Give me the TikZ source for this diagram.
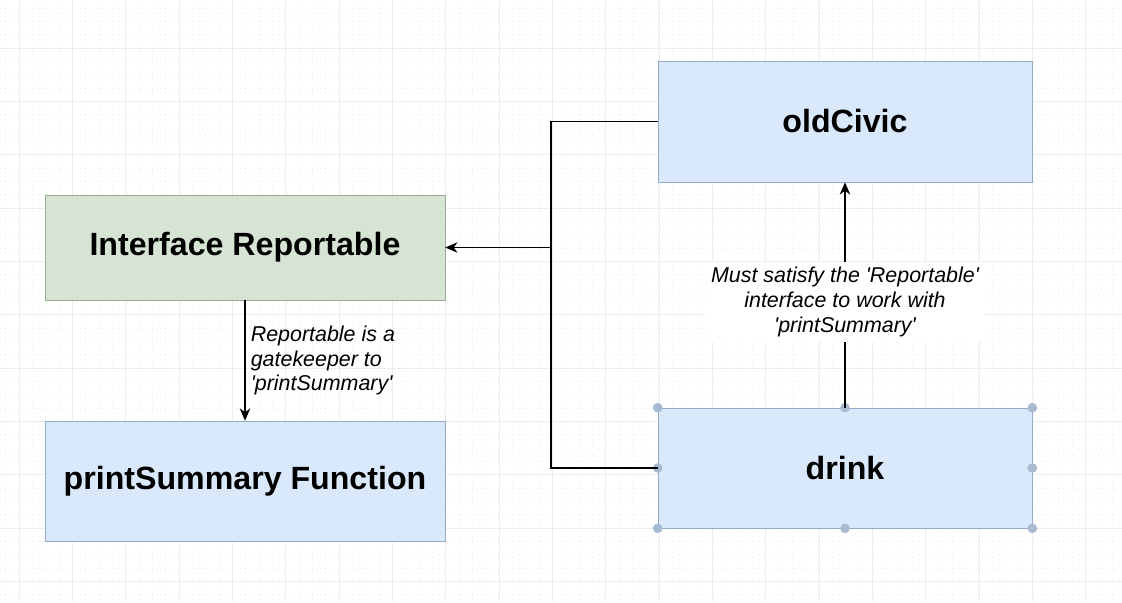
\documentclass[tikz,border=0pt]{standalone}
\usepackage{fontspec}
\setmainfont{Liberation Sans}
\usepackage{tikz}
\usetikzlibrary{positioning,arrows.meta}
\definecolor{boxblue}{HTML}{DAE8FC}
\definecolor{lineblue}{HTML}{93AACB}
\definecolor{boxgreen}{HTML}{D6E4D3}
\definecolor{linegreen}{HTML}{9DAA9A}
\definecolor{gridcol}{HTML}{EDEDED}
\definecolor{handlecol}{HTML}{A8BBD3}
\newcommand{\sq}{\textquotesingle}
\tikzstyle{classbox} = [rectangle, minimum width=7.48cm, minimum height=2.42cm, text centered, draw=lineblue, fill=boxblue, font=\fontsize{18.3}{22}\selectfont\bfseries]
\tikzstyle{ifacebox} = [classbox, draw=linegreen, fill=boxgreen]
\tikzstyle{note} = [font=\fontsize{12.2}{14.2}\selectfont\itshape, inner sep=2pt]
\tikzstyle{arrow} = [line width=0.6pt, -{Stealth[length=7pt,width=6pt]}]
\tikzstyle{gridmajor} = [gridcol, line width=0.5pt]
\tikzstyle{gridminor} = [gridcol, line width=0.4pt, dotted]
\tikzstyle{handle} = [circle, fill=handlecol, inner sep=0pt, minimum size=5.5pt]

\begin{document}
\begin{tikzpicture}[x=0.02cm, y=-0.02cm]
			\useasboundingbox (0,0) rectangle (1122,602);
			\fill[white] (0,0) rectangle (1122,602);
			% canvas grid
			\foreach \gx in {5.67,19,...,1122} \draw[gridminor] (\gx,0) -- (\gx,602);
			\foreach \gy in {8,21.33,...,602} \draw[gridminor] (0,\gy) -- (1122,\gy);
			\foreach \gx in {19,72.33,...,1122} \draw[gridmajor] (\gx,0) -- (\gx,602);
			\foreach \gy in {-5.33,48,...,602} \draw[gridmajor] (0,\gy) -- (1122,\gy);
			% boxes
			\node (reportable) [ifacebox, minimum width=8cm, minimum height=2.1cm] at (245,247.5) {Interface Reportable};
			\node (printsum) [classbox, minimum width=8cm, minimum height=2.4cm] at (245,481) {printSummary Function};
			\node (oldcivic) [classbox] at (845,121.5) {oldCivic};
			\node (drink) [classbox, minimum height=2.4cm] at (845,468) {drink};
			\foreach \a in {north west,north,north east,east,south east,south,south west,west}
				\node[handle] at (drink.\a) {};
			% connectors
			\coordinate (junc) at (551,247.5);
			\draw[line width=0.6pt] (oldcivic.west) -| (junc);
			\draw[line width=0.6pt] (drink.west) -| (junc);
			\draw[arrow] (junc) -- (reportable.east);
			\draw[arrow] (reportable) -- node[note, anchor=west, align=left, xshift=1pt]{Reportable is a\\gatekeeper to\\\sq printSummary\sq} (printsum);
			\draw[arrow] (drink) -- node[note, pos=0.47, fill=white, align=center, inner sep=3pt]{Must satisfy the \sq Reportable\sq\\interface to work with\\\sq printSummary\sq} (oldcivic);
		\end{tikzpicture}
\end{document}
